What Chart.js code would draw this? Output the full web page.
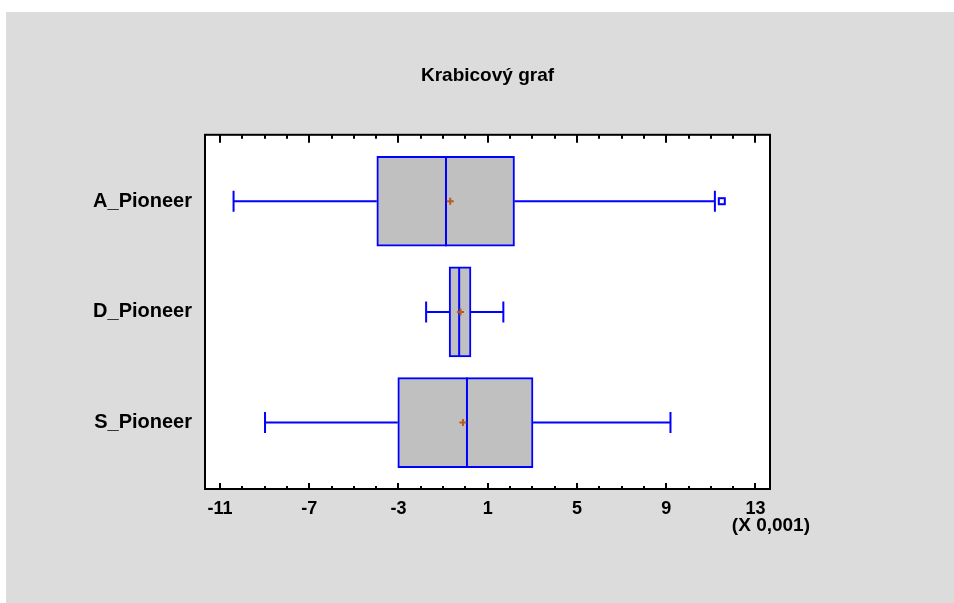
<!DOCTYPE html>
<html>
<head>
<meta charset="utf-8">
<script src="https://cdn.jsdelivr.net/npm/chart.js@4.4.0/dist/chart.umd.min.js"></script>
<style>
html, body { margin: 0; padding: 0; background: #fff; }
</style>
</head>
<body>
<canvas id="boxChart" width="954" height="603"></canvas>
<script>
// data (values are x 0,001)
const groups = ["A_Pioneer", "D_Pioneer", "S_Pioneer"];
const whiskerLow = [-10.39, -1.76, -8.98];
const quart1 = [-3.97, -0.73, -3.03];
const medians = [-0.87, -0.28, 0.07];
const quart3 = [2.2, 0.25, 3.03];
const whiskerHigh = [11.18, 1.7, 9.19];
const means = [-0.68, -0.22, -0.11];
const outliers = [[11.49], [], []];
const xTicks = [-11, -7, -3, 1, 5, 9, 13];
const minorTicks = [-11, -10, -9, -8, -7, -6, -5, -4, -3, -2, -1, 0, 1, 2, 3, 4, 5, 6, 7, 8, 9, 10, 11, 12, 13];

const BLUE = "#0000ff";
const FONT = "'Liberation Sans', Arial, sans-serif";

const boxPlugin = {
    id: "boxPlugin",
    beforeDraw(chart) {
        const c = chart.ctx;
        const a = chart.chartArea;
        c.save();
        c.fillStyle = "#ffffff";
        c.fillRect(0, 0, chart.width, chart.height);
        c.fillStyle = "#dcdcdc";
        c.fillRect(6, 12, chart.width - 6, chart.height - 12);
        c.fillStyle = "#ffffff";
        c.fillRect(a.left, a.top, a.right - a.left, a.bottom - a.top);
        c.restore();
    },
    afterDatasetsDraw(chart) {
        const c = chart.ctx;
        const xs = chart.scales.x;
        const ys = chart.scales.y;
        const half = 45;
        c.save();
        c.strokeStyle = BLUE;
        c.lineWidth = 2;
        groups.forEach((g, i) => {
            const y = ys.getPixelForValue(i);
            const lo = xs.getPixelForValue(whiskerLow[i]);
            const q1 = xs.getPixelForValue(quart1[i]);
            const q3 = xs.getPixelForValue(quart3[i]);
            const hi = xs.getPixelForValue(whiskerHigh[i]);
            const md = xs.getPixelForValue(medians[i]);
            c.beginPath();
            c.moveTo(lo, y); c.lineTo(q1, y);
            c.moveTo(q3, y); c.lineTo(hi, y);
            c.moveTo(lo, y - 10.5); c.lineTo(lo, y + 10.5);
            c.moveTo(hi, y - 10.5); c.lineTo(hi, y + 10.5);
            c.moveTo(md, y - half); c.lineTo(md, y + half);
            c.stroke();
            outliers[i].forEach(v => {
                const ox = xs.getPixelForValue(v);
                c.strokeRect(ox - 3, y - 3, 6, 6);
            });
            // mean marker
            const mx = xs.getPixelForValue(means[i]);
            c.save();
            c.strokeStyle = "#b85c1c";
            c.beginPath();
            c.moveTo(mx - 3.5, y); c.lineTo(mx + 3.5, y);
            c.moveTo(mx, y - 3.5); c.lineTo(mx, y + 3.5);
            c.stroke();
            c.restore();
        });
        c.restore();
    },
    afterDraw(chart) {
        const c = chart.ctx;
        const a = chart.chartArea;
        const xs = chart.scales.x;
        c.save();
        c.strokeStyle = "#000000";
        c.lineWidth = 2;
        c.strokeRect(a.left, a.top, a.right - a.left, a.bottom - a.top);
        c.beginPath();
        minorTicks.forEach(v => {
            const px = Math.round(xs.getPixelForValue(v));
            const major = xTicks.includes(v);
            c.moveTo(px, a.bottom); c.lineTo(px, a.bottom - (major ? 6 : 3));
            c.moveTo(px, a.top); c.lineTo(px, a.top + (major ? 8 : 4));
        });
        c.stroke();
        c.fillStyle = "#000000";
        c.font = "bold 19px " + FONT;
        c.textAlign = "right";
        c.textBaseline = "middle";
        c.fillText("(X 0,001)", 810, 526);
        c.restore();
    }
};

const ctx = document.getElementById("boxChart").getContext("2d");
new Chart(ctx, {
    type: "bar",
    data: {
        datasets: [
            {
                label: "box",
                data: groups.map((g, i) => ({ x: [quart1[i], quart3[i]], y: i })),
                backgroundColor: "#c0c0c0",
                borderColor: BLUE,
                borderWidth: 2,
                borderSkipped: false,
                barThickness: 90,
            },
        ],
    },
    options: {
        indexAxis: "y",
        responsive: false,
        animation: false,
        layout: {
            padding: { top: 64, right: 0, left: 21, bottom: 0 },
        },
        plugins: {
            legend: { display: false },
            tooltip: { enabled: false },
            title: {
                display: true,
                text: "Krabicový graf",
                color: "#000000",
                font: { family: FONT, size: 19, weight: "bold" },
                padding: { top: 0, bottom: 48 },
            },
        },
        scales: {
            x: {
                type: "linear",
                position: "bottom",
                min: -11.67,
                max: 13.65,
                grid: { display: false, drawTicks: false },
                border: { display: false },
                ticks: {
                    color: "#000000",
                    font: { family: FONT, size: 18, weight: "bold" },
                    padding: 9,
                    maxRotation: 0,
                    autoSkip: false,
                },
                afterBuildTicks: (scale) => {
                    scale.ticks = xTicks.map(v => ({ value: v }));
                },
                afterFit: (scale) => {
                    scale.height = 114;
                },
            },
            y: {
                type: "linear",
                position: "left",
                reverse: true,
                offset: false,
                bounds: "data",
                min: -0.6,
                max: 2.6,
                grid: { display: false, drawTicks: false, offset: false },
                border: { display: false },
                ticks: {
                    color: "#000000",
                    font: { family: FONT, size: 20, weight: "bold" },
                    padding: 13,
                    autoSkip: false,
                    callback: (v) => groups[v],
                },
                afterBuildTicks: (scale) => {
                    scale.ticks = groups.map((g, i) => ({ value: i }));
                },
                afterFit: (scale) => {
                    scale.width = 184;
                },
            },
            // empty right axis, only reserves the space right of the plot
            yRight: {
                type: "linear",
                position: "right",
                grid: { display: false, drawTicks: false },
                border: { display: false },
                ticks: { display: false },
                afterFit: (scale) => {
                    scale.width = 184;
                },
            },
        },
    },
    plugins: [boxPlugin],
});
</script>
</body>
</html>
